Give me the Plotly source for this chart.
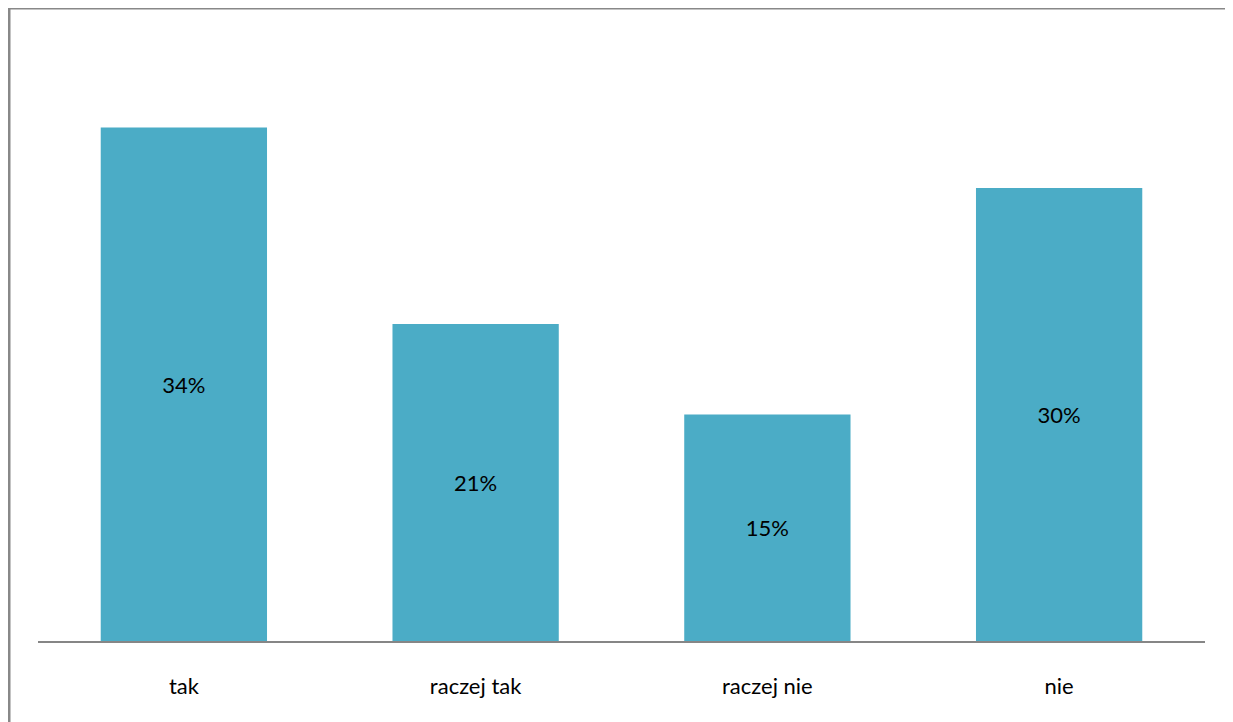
import plotly.graph_objects as go

categories = ["tak", "raczej tak", "raczej nie", "nie"]
values = [34, 21, 15, 30]
labels = ["34%", "21%", "15%", "30%"]

# page has an 8px body margin, compensate
OFF = 8
W, H = 1233 - OFF, 722 - OFF
L, R, T, B = 38 - OFF, 28, 37 - OFF, 81
pw, ph = W - L - R, H - T - B

def px(x):
    return (x - OFF - L) / pw

def py(y):
    return 1 - (y - OFF - T) / ph

fig = go.Figure()
fig.add_trace(go.Bar(
    x=categories, y=values, text=labels,
    textposition="inside", insidetextanchor="middle",
    textfont=dict(family="Lato", size=22, color="#000000"),
    marker=dict(color="#4BACC6", line=dict(width=0)),
    hoverinfo="skip",
))

fig.update_layout(
    width=W, height=H,
    margin=dict(l=L, r=R, t=T, b=B),
    paper_bgcolor="white", plot_bgcolor="white",
    bargap=0.43,
    showlegend=False,
    font=dict(family="Lato", size=22, color="#000000"),
    xaxis=dict(showline=True, linecolor="#868686", linewidth=2,
               showgrid=False, ticks="", ticklabelstandoff=25,
               tickfont=dict(family="Lato", size=22, color="#000000")),
    yaxis=dict(range=[0, 40], visible=False, showgrid=False),
    shapes=[
        dict(type="line", xref="paper", yref="paper", x0=px(9), x1=px(9), y0=py(7), y1=py(730),
             line=dict(color="#888888", width=3)),
        dict(type="line", xref="paper", yref="paper", x0=px(7), x1=px(1240), y0=py(8), y1=py(8),
             line=dict(color="#888888", width=3)),
        dict(type="line", xref="paper", yref="paper", x0=px(1231.5), x1=px(1231.5), y0=py(9), y1=py(730),
             line=dict(color="#D0D0D0", width=2)),
    ],
)

fig.write_html("out.html")
